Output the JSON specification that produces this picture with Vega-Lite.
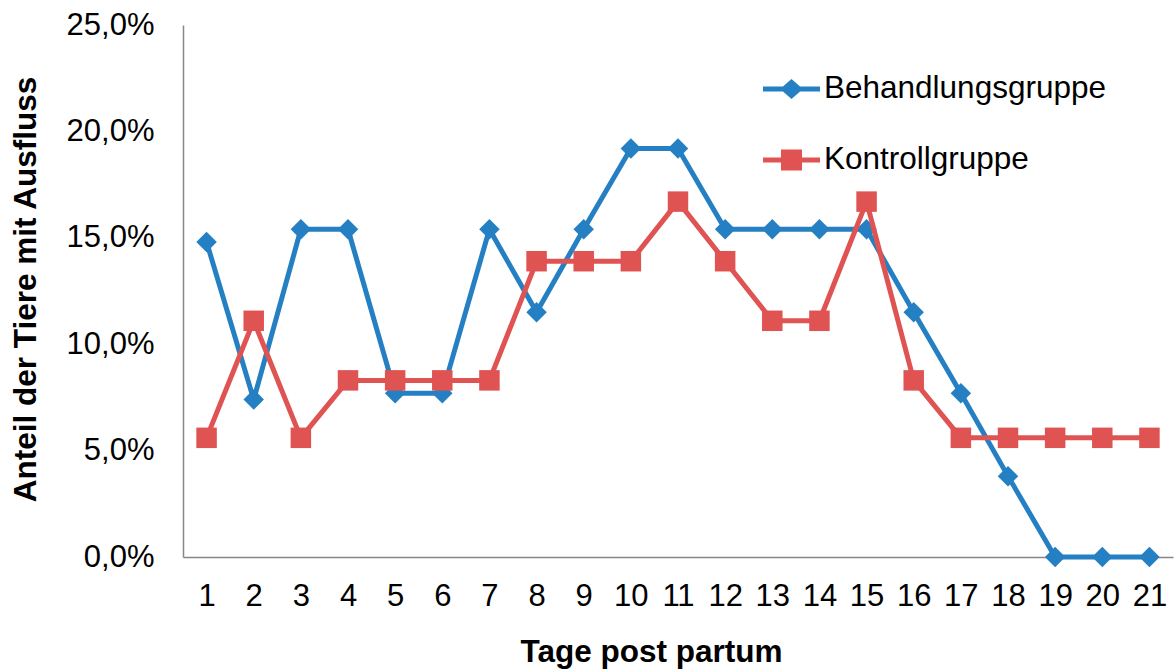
{
  "$schema": "https://vega.github.io/schema/vega-lite/v6.json",
  "width": 990,
  "height": 532,
  "autosize": {"type": "none"},
  "padding": {"left": 183, "top": 25, "right": 1, "bottom": 114},
  "background": "white",
  "config": {
    "font": "Liberation Sans",
    "view": {"stroke": null},
    "locale": {
      "number": {"decimal": ",", "thousands": ".", "grouping": [3], "currency": ["", " €"]}
    }
  },
  "data": {
    "values": [
      {"tag": 1, "gruppe": "Behandlungsgruppe", "anteil": 0.148},
      {"tag": 2, "gruppe": "Behandlungsgruppe", "anteil": 0.074},
      {"tag": 3, "gruppe": "Behandlungsgruppe", "anteil": 0.154},
      {"tag": 4, "gruppe": "Behandlungsgruppe", "anteil": 0.154},
      {"tag": 5, "gruppe": "Behandlungsgruppe", "anteil": 0.077},
      {"tag": 6, "gruppe": "Behandlungsgruppe", "anteil": 0.077},
      {"tag": 7, "gruppe": "Behandlungsgruppe", "anteil": 0.154},
      {"tag": 8, "gruppe": "Behandlungsgruppe", "anteil": 0.115},
      {"tag": 9, "gruppe": "Behandlungsgruppe", "anteil": 0.154},
      {"tag": 10, "gruppe": "Behandlungsgruppe", "anteil": 0.192},
      {"tag": 11, "gruppe": "Behandlungsgruppe", "anteil": 0.192},
      {"tag": 12, "gruppe": "Behandlungsgruppe", "anteil": 0.154},
      {"tag": 13, "gruppe": "Behandlungsgruppe", "anteil": 0.154},
      {"tag": 14, "gruppe": "Behandlungsgruppe", "anteil": 0.154},
      {"tag": 15, "gruppe": "Behandlungsgruppe", "anteil": 0.154},
      {"tag": 16, "gruppe": "Behandlungsgruppe", "anteil": 0.115},
      {"tag": 17, "gruppe": "Behandlungsgruppe", "anteil": 0.077},
      {"tag": 18, "gruppe": "Behandlungsgruppe", "anteil": 0.038},
      {"tag": 19, "gruppe": "Behandlungsgruppe", "anteil": 0},
      {"tag": 20, "gruppe": "Behandlungsgruppe", "anteil": 0},
      {"tag": 21, "gruppe": "Behandlungsgruppe", "anteil": 0},
      {"tag": 1, "gruppe": "Kontrollgruppe", "anteil": 0.056},
      {"tag": 2, "gruppe": "Kontrollgruppe", "anteil": 0.111},
      {"tag": 3, "gruppe": "Kontrollgruppe", "anteil": 0.056},
      {"tag": 4, "gruppe": "Kontrollgruppe", "anteil": 0.083},
      {"tag": 5, "gruppe": "Kontrollgruppe", "anteil": 0.083},
      {"tag": 6, "gruppe": "Kontrollgruppe", "anteil": 0.083},
      {"tag": 7, "gruppe": "Kontrollgruppe", "anteil": 0.083},
      {"tag": 8, "gruppe": "Kontrollgruppe", "anteil": 0.139},
      {"tag": 9, "gruppe": "Kontrollgruppe", "anteil": 0.139},
      {"tag": 10, "gruppe": "Kontrollgruppe", "anteil": 0.139},
      {"tag": 11, "gruppe": "Kontrollgruppe", "anteil": 0.167},
      {"tag": 12, "gruppe": "Kontrollgruppe", "anteil": 0.139},
      {"tag": 13, "gruppe": "Kontrollgruppe", "anteil": 0.111},
      {"tag": 14, "gruppe": "Kontrollgruppe", "anteil": 0.111},
      {"tag": 15, "gruppe": "Kontrollgruppe", "anteil": 0.167},
      {"tag": 16, "gruppe": "Kontrollgruppe", "anteil": 0.083},
      {"tag": 17, "gruppe": "Kontrollgruppe", "anteil": 0.056},
      {"tag": 18, "gruppe": "Kontrollgruppe", "anteil": 0.056},
      {"tag": 19, "gruppe": "Kontrollgruppe", "anteil": 0.056},
      {"tag": 20, "gruppe": "Kontrollgruppe", "anteil": 0.056},
      {"tag": 21, "gruppe": "Kontrollgruppe", "anteil": 0.056}
    ]
  },
  "encoding": {
    "x": {
      "field": "tag",
      "type": "ordinal",
      "scale": {"type": "point", "padding": 0.5},
      "axis": {
        "title": "Tage post partum",
        "titleFontSize": 31.5,
        "titleFontWeight": "bold",
        "titleColor": "black",
        "titleX": 468,
        "titleY": 79,
        "titleBaseline": "top",
        "labelAngle": 0,
        "labelFontSize": 31,
        "labelColor": "black",
        "labelPadding": 24,
        "ticks": false,
        "tickSize": 0,
        "grid": false,
        "domainColor": "#878787",
        "domainWidth": 1.5
      }
    },
    "y": {
      "field": "anteil",
      "type": "quantitative",
      "scale": {"domain": [0, 0.25], "nice": false, "zero": true},
      "axis": {
        "title": "Anteil der Tiere mit Ausfluss",
        "titleFontSize": 31.5,
        "titleFontWeight": "bold",
        "titleColor": "black",
        "titleAngle": -90,
        "titleBaseline": "alphabetic",
        "titleAlign": "center",
        "titleX": -148,
        "titleY": 264,
        "values": [0, 0.05, 0.1, 0.15, 0.2, 0.25],
        "format": ".1%",
        "labelFontSize": 31,
        "labelColor": "black",
        "labelPadding": 29,
        "ticks": false,
        "tickSize": 0,
        "grid": false,
        "domainColor": "#878787",
        "domainWidth": 1.5
      }
    }
  },
  "layer": [
    {
      "transform": [{"filter": "datum.gruppe === 'Behandlungsgruppe'"}],
      "mark": {"type": "line", "color": "#2580c3", "strokeWidth": 5, "strokeJoin": "round", "strokeCap": "round"}
    },
    {
      "transform": [{"filter": "datum.gruppe === 'Behandlungsgruppe'"}],
      "mark": {"type": "point", "shape": "diamond", "color": "#2580c3", "filled": true, "size": 420, "opacity": 1, "strokeWidth": 0}
    },
    {
      "transform": [{"filter": "datum.gruppe === 'Kontrollgruppe'"}],
      "mark": {"type": "line", "color": "#e05353", "strokeWidth": 5, "strokeJoin": "round", "strokeCap": "round"}
    },
    {
      "transform": [{"filter": "datum.gruppe === 'Kontrollgruppe'"}],
      "mark": {"type": "point", "shape": "square", "color": "#e05353", "filled": true, "size": 420, "opacity": 1, "strokeWidth": 0}
    },
    {
      "description": "Legend only: line-and-marker symbols for the two groups, no marks drawn",
      "transform": [{"filter": "false"}],
      "mark": {"type": "point", "filled": true, "opacity": 1, "size": 1, "strokeWidth": 0},
      "encoding": {
        "color": {
          "field": "gruppe",
          "type": "nominal",
          "scale": {
            "domain": ["Behandlungsgruppe", "Kontrollgruppe"],
            "range": ["#2580c3", "#e05353"]
          },
          "legend": {
            "title": null,
            "orient": "none",
            "legendX": 580,
            "legendY": 35.5,
            "padding": 0,
            "rowPadding": 27,
            "labelOffset": 4,
            "labelFontSize": 31.5,
            "labelColor": "black",
            "labelLimit": 400,
            "symbolSize": 3249,
            "symbolOpacity": 1,
            "symbolStrokeWidth": 0
          }
        },
        "shape": {
          "field": "gruppe",
          "type": "nominal",
          "scale": {
            "domain": ["Behandlungsgruppe", "Kontrollgruppe"],
            "range": [
              "M-1,-0.088H-0.3L0,-0.35L0.3,-0.088H1V0.088H0.3L0,0.35L-0.3,0.088H-1Z",
              "M-1,-0.088H-0.37V-0.37H0.37V-0.088H1V0.088H0.37V0.37H-0.37V0.088H-1Z"
            ]
          },
          "legend": {
            "title": null,
            "orient": "none",
            "legendX": 580,
            "legendY": 35.5,
            "padding": 0,
            "rowPadding": 27,
            "labelOffset": 4,
            "labelFontSize": 31.5,
            "labelColor": "black",
            "labelLimit": 400,
            "symbolSize": 3249,
            "symbolOpacity": 1,
            "symbolStrokeWidth": 0
          }
        }
      }
    }
  ]
}
